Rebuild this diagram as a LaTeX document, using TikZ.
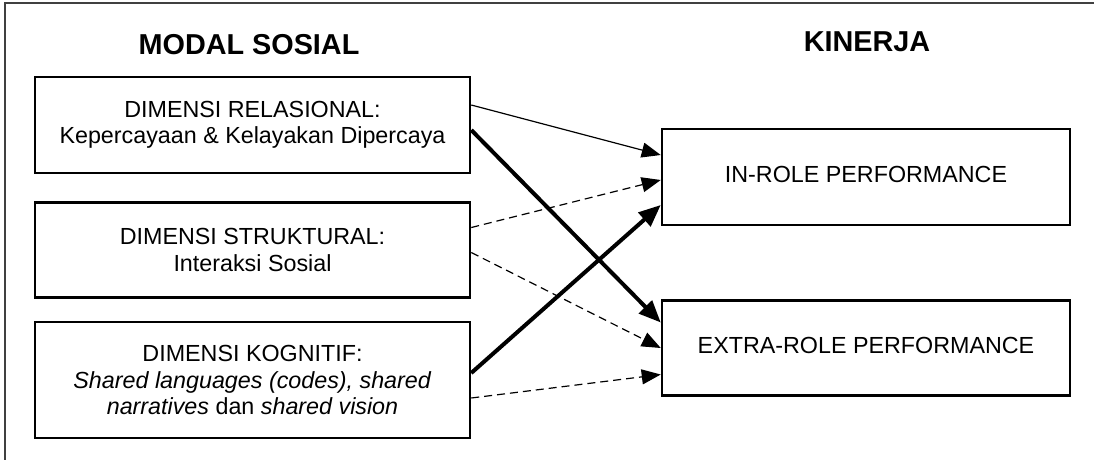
\documentclass[tikz,border=0pt]{standalone}
\usepackage{fontspec}
\setmainfont{Liberation Sans}
\usetikzlibrary{arrows.meta,positioning}
\begin{document}
\begin{tikzpicture}[x=1pt,y=-1pt,>={Triangle[length=19pt,width=15pt]}]
  \tikzstyle{box}=[draw,line width=2.5pt,align=center,inner sep=0pt,font=\fontsize{23.3}{26.5}\selectfont]
  \tikzstyle{title}=[font=\fontsize{28.8}{32}\selectfont\bfseries]
  \tikzstyle{thinarrow}=[line width=1.2pt,->]
  \tikzstyle{thickarrow}=[line width=4pt,-{Triangle[length=22pt,width=18pt]}]
  \tikzstyle{dasharrow}=[line width=1.2pt,dash pattern=on 8pt off 5pt,->]
  \useasboundingbox (0,0) rectangle (1094,459);
  \clip (0,0) rectangle (1094,459);
  \draw[line width=2pt,black!75] (5,470) -- (5,3) -- (1100,3);
  % judul kolom
  \node[title] (modal) at (249,45) {MODAL SOSIAL};
  \node[title] (kinerja) at (867,42) {KINERJA};
  % dimensi modal sosial
  \node[box,minimum width=435pt,minimum height=96pt] (rel) at (252.5,125) {DIMENSI RELASIONAL:\\Kepercayaan \& Kelayakan Dipercaya};
  \node[box,minimum width=435pt,minimum height=95pt,below=27pt of rel] (str) {DIMENSI STRUKTURAL:\\Interaksi Sosial};
  \node[box,minimum width=435pt,minimum height=116pt,below=22pt of str] (kog) {DIMENSI KOGNITIF:\\\textit{Shared languages (codes), shared}\\\textit{narratives} dan \textit{shared vision}};
  % kinerja
  \node[box,minimum width=408pt,minimum height=96pt] (in) at (866,177) {\raisebox{5pt}{IN-ROLE PERFORMANCE}};
  \node[box,minimum width=408pt,minimum height=95pt,below=73pt of in] (ex) {\raisebox{5pt}{EXTRA-ROLE PERFORMANCE}};
  % hubungan
  \draw[thinarrow] ([yshift=20pt]rel.east) -- ([yshift=22pt]in.west);
  \draw[thickarrow] ([yshift=-5pt]rel.east) -- ([yshift=25.5pt]ex.west);
  \draw[dasharrow] ([yshift=22.5pt]str.east) -- ([yshift=-3pt]in.west);
  \draw[dasharrow] ([yshift=-2.5pt]str.east) -- (ex.west);
  \draw[thickarrow] ([yshift=7pt]kog.east) -- ([yshift=-28pt]in.west);
  \draw[dasharrow] ([yshift=-18pt]kog.east) -- ([yshift=-26.5pt]ex.west);
\end{tikzpicture}
\end{document}
